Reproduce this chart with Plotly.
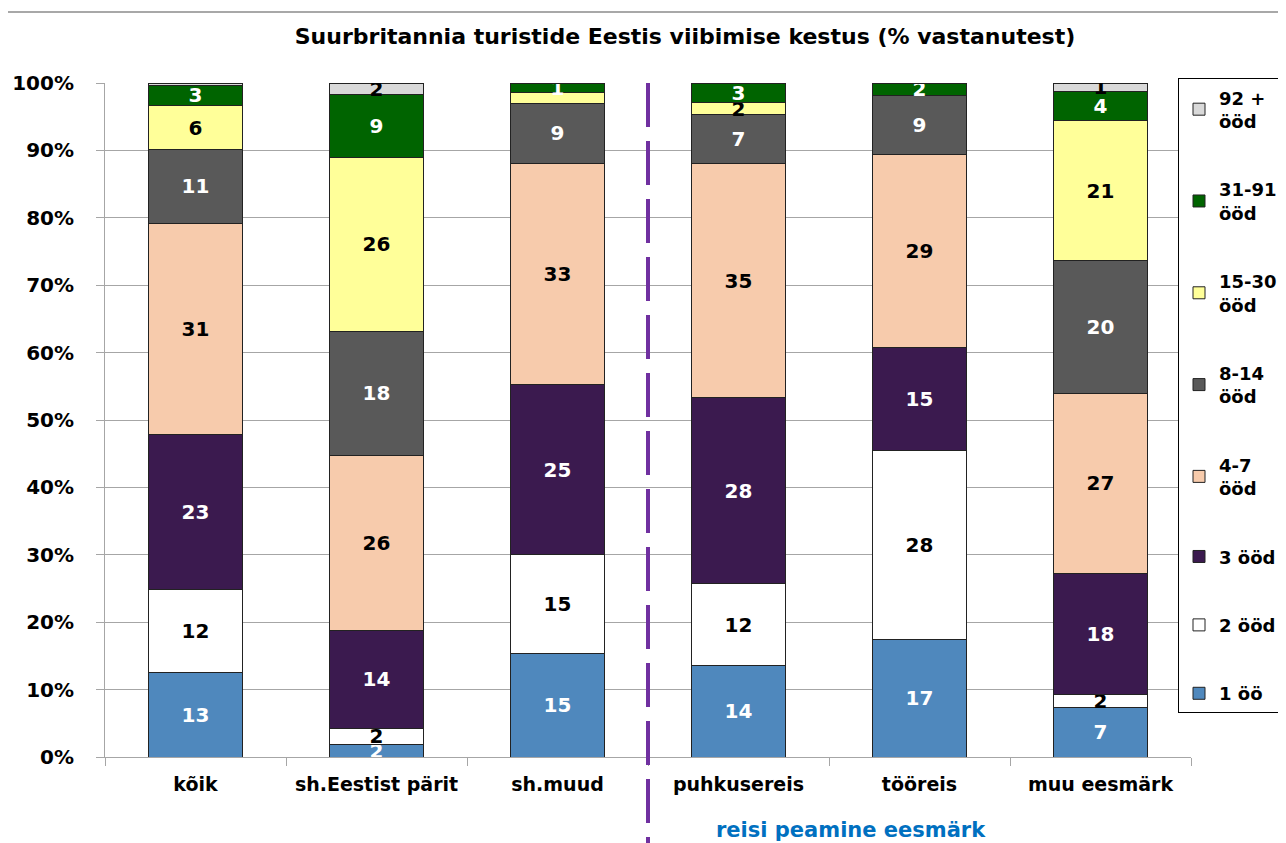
import plotly.graph_objects as go

categories = ["kõik", "sh.Eestist pärit", "sh.muud", "puhkusereis", "tööreis", "muu eesmärk"]

series_names = ["1 öö", "2 ööd", "3 ööd", "4-7<br>ööd", "8-14<br>ööd", "15-30<br>ööd", "31-91<br>ööd", "92 +<br>ööd"]

v_1 = [12.6, 1.8, 15.4, 13.6, 17.4, 7.4]
v_2 = [12.2, 2.5, 14.7, 12.1, 28.1, 1.9]
v_3 = [23.0, 14.4, 25.1, 27.6, 15.3, 18.0]
v_4_7 = [31.4, 26.1, 32.9, 34.7, 28.6, 26.6]
v_8_14 = [10.9, 18.4, 8.9, 7.3, 8.7, 19.7]
v_15_30 = [6.5, 25.8, 1.6, 1.8, 0.0, 20.8]
v_31_91 = [3.1, 9.3, 1.4, 2.9, 1.9, 4.4]
v_92 = [0.3, 1.7, 0.0, 0.0, 0.0, 1.2]

values = [v_1, v_2, v_3, v_4_7, v_8_14, v_15_30, v_31_91, v_92]
colors = ["#4F88BD", "#FFFFFF", "#3B1A4F", "#F7CBAC", "#595959", "#FFFF99", "#006400", "#D9D9D9"]
text_colors = ["white", "black", "white", "black", "white", "black", "white", "black"]
# labels not shown in the original (series index, category index)
hidden = {(5, 2), (7, 0)}

FONT = "DejaVu Sans"

# page body has an 8px offset; figure is sized to fit the window
W, H = 1278, 835
L, T = 97, 75
PW, PH = 1086, 674

fig = go.Figure()
for i, (name, vals) in enumerate(zip(series_names, values)):
    txt = []
    for j, v in enumerate(vals):
        if v < 0.5 or (i, j) in hidden:
            txt.append("")
        else:
            txt.append(f"<b>{int(round(v))}</b>")
    fig.add_trace(go.Bar(
        x=categories, y=vals, name=f"<b>{name}</b>", text=txt,
        textposition="inside", insidetextanchor="middle", textangle=0,
        constraintext="none",
        textfont=dict(color=text_colors[i], size=20, family=FONT),
        marker=dict(color=colors[i], line=dict(color="#222222", width=1)),
        width=0.52, legendgroup=f"g{i}", legendrank=100 - i, hoverinfo="skip",
    ))

fig.update_layout(
    barmode="stack",
    width=W, height=H,
    margin=dict(l=L, r=W - L - PW, t=T, b=H - T - PH, autoexpand=False),
    paper_bgcolor="white", plot_bgcolor="white",
    font=dict(family=FONT, color="black", size=19),
    title=dict(text="<b>Suurbritannia turistide Eestis viibimise kestus (% vastanutest)</b>",
               x=(685 - 8) / W, xanchor="center", y=1 - (36 - 8) / H, yanchor="middle",
               font=dict(size=22, family=FONT, color="black")),
    uniformtext=dict(minsize=20, mode="show"),
    legend=dict(
        x=(1178 - 8 - L) / PW, xanchor="left", y=1.007, yanchor="top",
        traceorder="grouped", tracegroupgap=42, maxheight=900,
        bordercolor="black", borderwidth=1, bgcolor="white",
        font=dict(size=18, family=FONT, color="black"),
        itemwidth=30,
    ),
    showlegend=True,
)

fig.update_yaxes(
    range=[0, 100], tickvals=list(range(0, 101, 10)),
    ticktext=[f"<b>{t}%</b>" for t in range(0, 101, 10)],
    showgrid=True, gridcolor="#A6A6A6", gridwidth=1,
    showline=True, linecolor="#A6A6A6", ticks="outside", ticklen=8, tickcolor="#A6A6A6",
    ticklabelstandoff=18,
    tickfont=dict(size=20, family=FONT), zeroline=False,
)
fig.update_xaxes(
    tickvals=categories, ticktext=[f"<b>{c}</b>" for c in categories],
    showline=True, linecolor="#A6A6A6", ticks="outside", tickson="boundaries",
    ticklen=8, tickcolor="#A6A6A6", ticklabelstandoff=10, tickangle=0,
    tickfont=dict(size=19, family=FONT),
)

# purple dashed separator between groups
fig.add_shape(type="line", xref="x", yref="paper", x0=2.5, x1=2.5, y0=1.0, y1=-0.14,
              line=dict(color="#7030A0", width=4, dash="44px,14px"))
# chart border
fig.add_shape(type="rect", xref="paper", yref="paper",
              x0=(4 - 8 - L) / PW + 0.001, x1=1.2, y0=-0.3, y1=(757 - 12) / PH,
              line=dict(color="#8C8C8C", width=1.5), layer="below")

fig.add_annotation(text="<b>reisi peamine eesmärk</b>", xref="paper", yref="paper",
                   x=(851 - 8 - L) / PW, y=(757 - 830) / PH, showarrow=False,
                   xanchor="center", yanchor="middle",
                   font=dict(size=21, family=FONT, color="#0070C0"))

fig.write_html("out.html")
